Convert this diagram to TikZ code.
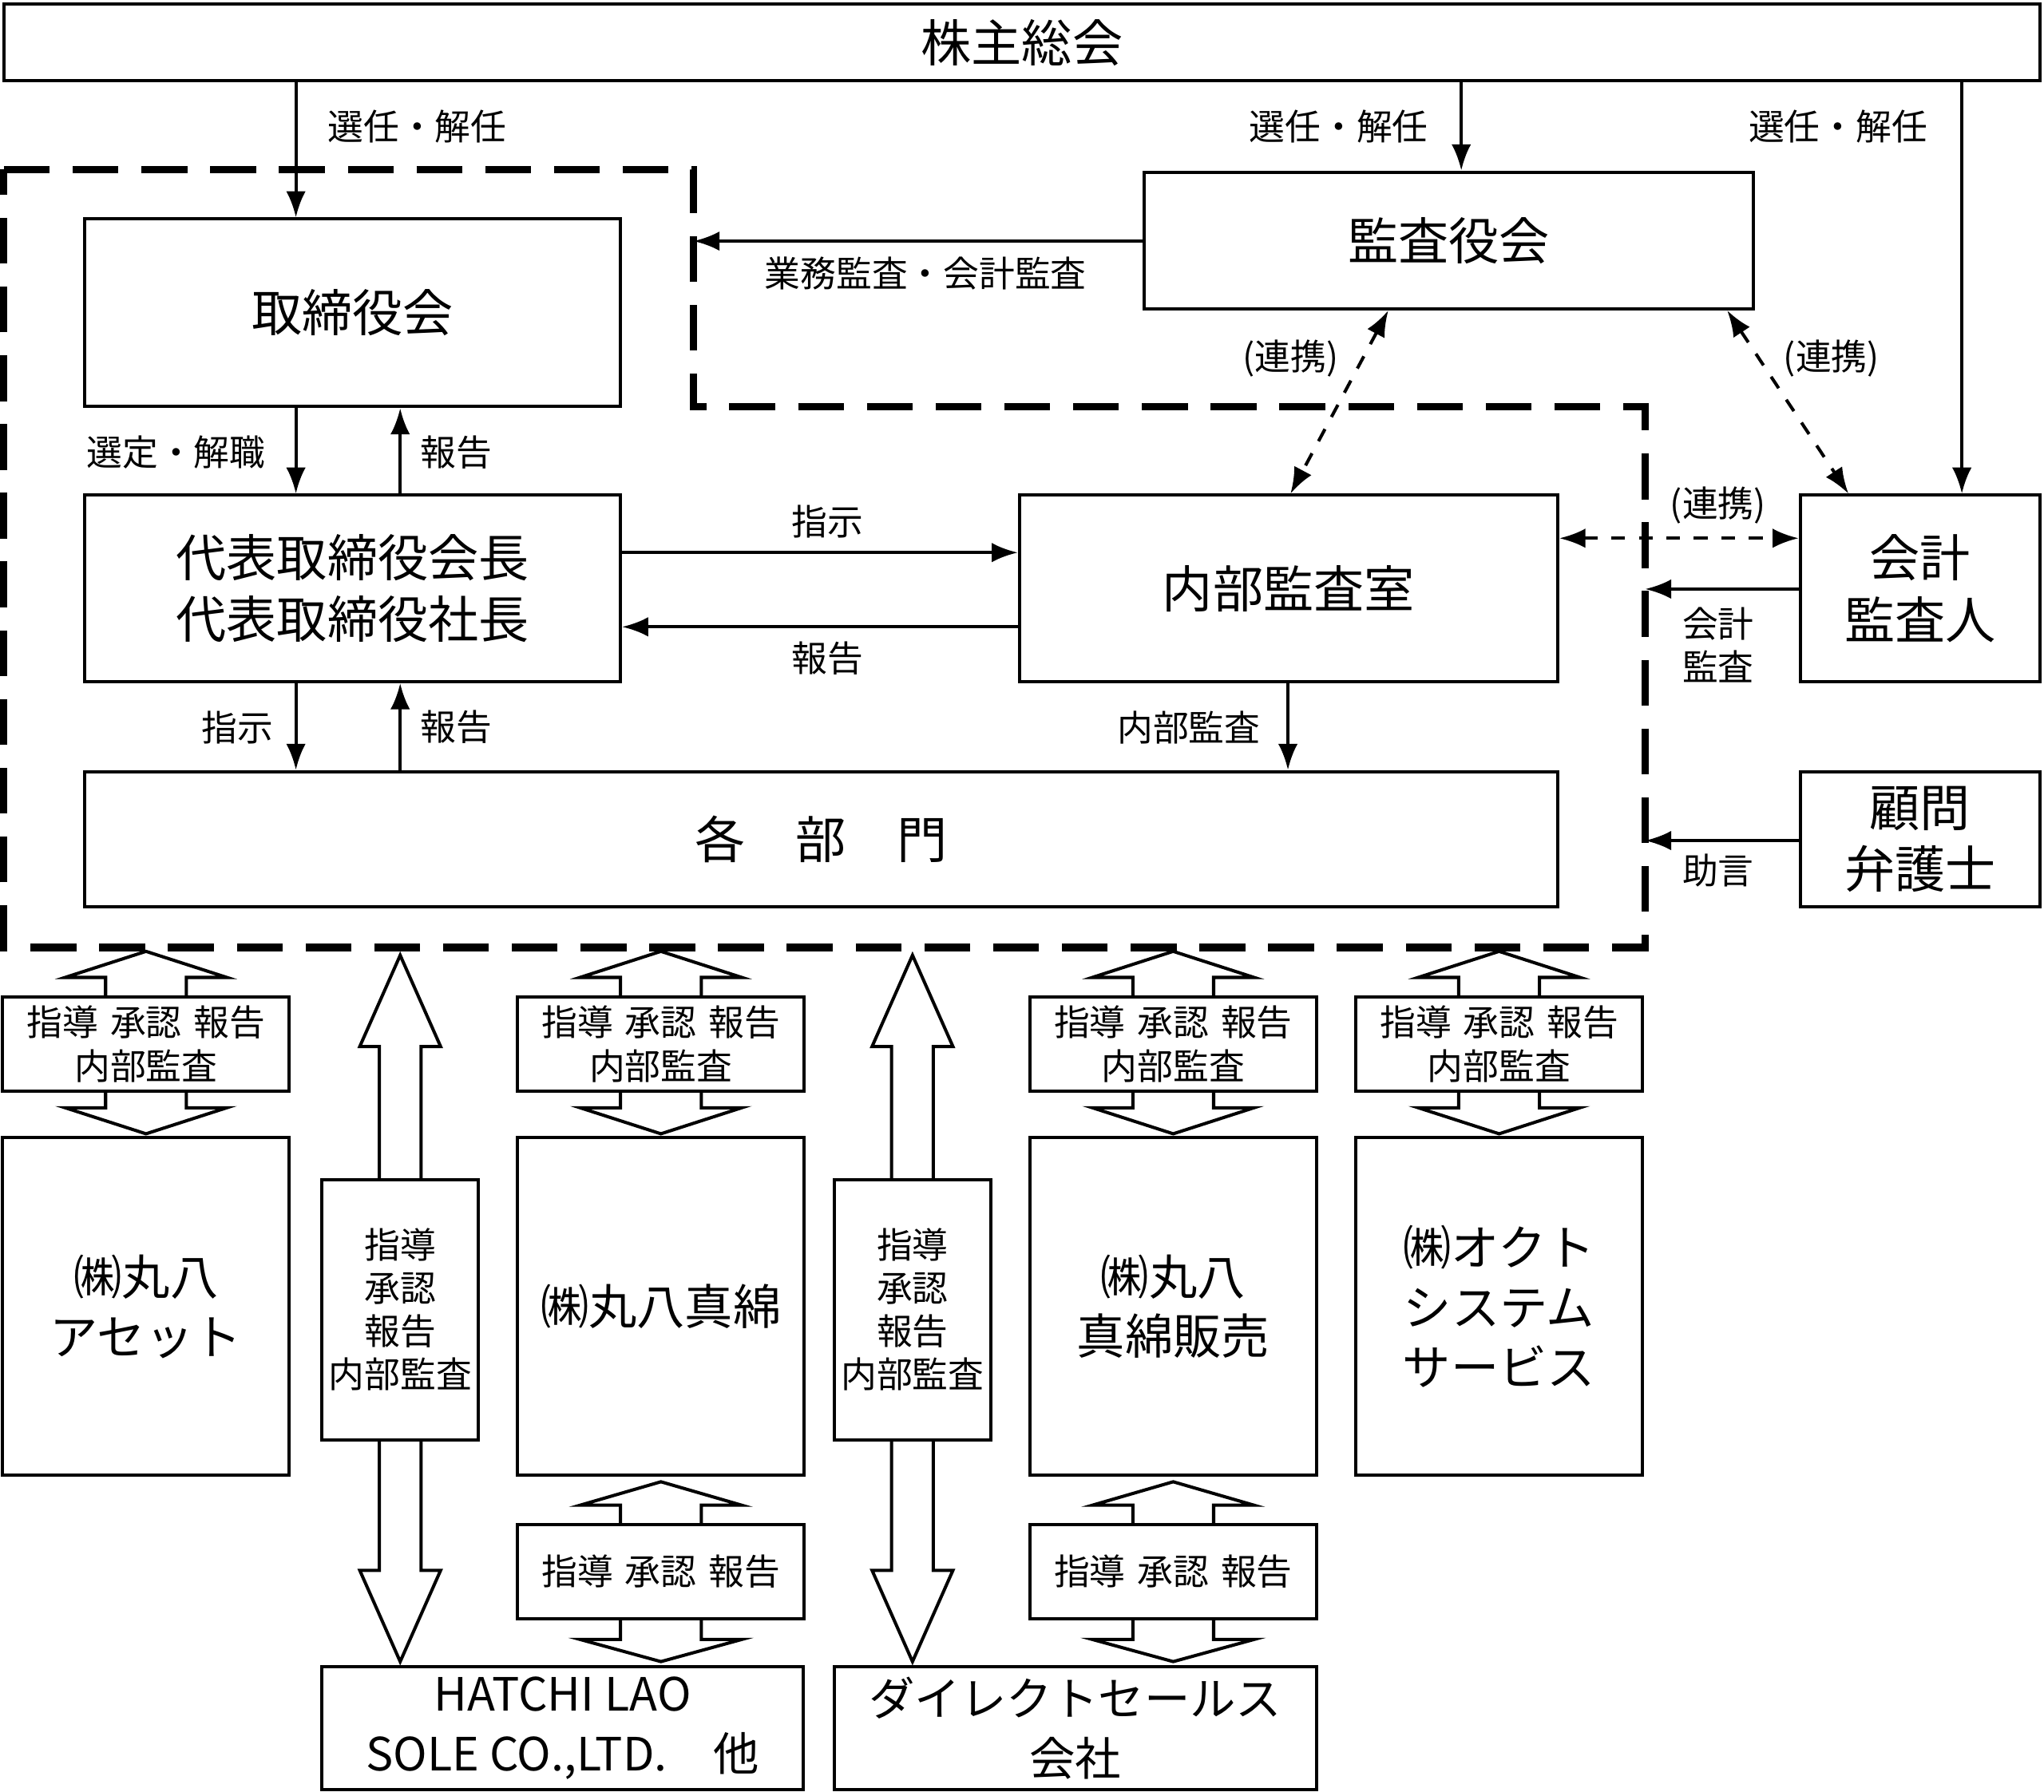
\documentclass[tikz,border=0pt]{standalone}
\usepackage{fontspec}
\setmainfont{Noto Sans CJK JP}
\usetikzlibrary{arrows.meta, calc, fit}

% block double arrow: cx, top tip, top base, bottom base, bottom tip, half head, half shaft
\newcommand{\blockarrow}[7]{%
  \draw[fill=white] (#1,#2) -- (#1+#6,#3) -- (#1+#7,#3) -- (#1+#7,#4) -- (#1+#6,#4)
    -- (#1,#5) -- (#1-#6,#4) -- (#1-#7,#4) -- (#1-#7,#3) -- (#1-#6,#3) -- cycle;}

\begin{document}
\begin{tikzpicture}[x=0.01cm, y=-0.01cm, line width=0.7pt,
    box/.style={draw, fill=white, inner sep=0pt},
    big/.style={align=center, font=\fontsize{11}{13.5}\selectfont},
    lbl/.style={align=center, font=\fontsize{7.8}{9.5}\selectfont},
    arr/.style={-{Latex[length=0.2cm,width=0.15cm]}},
    link/.style={{Latex[length=0.2cm,width=0.15cm]}-{Latex[length=0.2cm,width=0.15cm]}, dashed}]
    \useasboundingbox (0,0) rectangle (1568,1375);

    % dashed company frame
    \draw[line width=1.6pt, dash pattern=on 10pt off 5pt]
        (3,130) -- (532,130) -- (532,312) -- (1262,312) -- (1262,727) -- (3,727) -- cycle;

    % main boxes
    \node[box, fit={(3,3)(1565,62)}] (soukai) {};
    \node[big] at (soukai) {株主総会};
    \node[box, fit={(65,168)(476,312)}] (torishimari) {};
    \node[big] at (torishimari) {取締役会};
    \node[box, fit={(878,132)(1345,237)}] (kansayaku) {};
    \node[big] at (kansayaku) {監査役会};
    \node[box, fit={(65,380)(476,523)}] (daihyo) {};
    \node[big] at (daihyo) {代表取締役会長\\代表取締役社長};
    \node[box, fit={(782,380)(1195,523)}] (naibu) {};
    \node[big] at (naibu) {内部監査室};
    \node[box, fit={(1381,380)(1565,523)}] (kaikei) {};
    \node[big] at (kaikei) {会計\\監査人};
    \node[box, fit={(65,592)(1195,696)}] (bumon) {};
    \node[big] at (bumon) {各　部　門};
    \node[box, fit={(1381,592)(1565,696)}] (komon) {};
    \node[big] at (komon) {顧問\\弁護士};
    \coordinate (frame) at (1262,452);
    \coordinate (frameB) at (1262,645);
    \coordinate (frameT) at (532,185);

    % connectors
    \draw[arr] (soukai.south -| 227,0) -- (torishimari.north -| 227,0);
    \node[lbl] at (320,97) {選任・解任};
    \draw[arr] (soukai.south -| 1121,0) -- (kansayaku.north -| 1121,0);
    \node[lbl] at (1027,97) {選任・解任};
    \draw[arr] (soukai.south -| 1505,0) -- (kaikei.north -| 1505,0);
    \node[lbl] at (1410,97) {選任・解任};
    \draw[arr] (kansayaku.west |- frameT) -- (frameT);
    \node[lbl] at (710,210) {業務監査・会計監査};
    \draw[arr] (torishimari.south -| 227,0) -- (daihyo.north -| 227,0);
    \node[lbl] at (135,347) {選定・解職};
    \draw[arr] (daihyo.north -| 307,0) -- (torishimari.south -| 307,0);
    \node[lbl] at (350,347) {報告};
    \draw[arr] (daihyo.east |- 0,424) -- (naibu.west |- 0,424);
    \node[lbl] at (635,400) {指示};
    \draw[arr] (naibu.west |- 0,481) -- (daihyo.east |- 0,481);
    \node[lbl] at (635,505) {報告};
    \draw[arr] (daihyo.south -| 227,0) -- (bumon.north -| 227,0);
    \node[lbl] at (182,558) {指示};
    \draw[arr] (bumon.north -| 307,0) -- (daihyo.south -| 307,0);
    \node[lbl] at (350,558) {報告};
    \draw[arr] (naibu.south -| 988,0) -- (bumon.north -| 988,0);
    \node[lbl] at (912,558) {内部監査};
    \draw[link] (kansayaku.south -| 1065,0) -- (naibu.north -| 990,0);
    \node[lbl] at (990,275) {(連携)};
    \draw[link] (kansayaku.south -| 1325,0) -- (kaikei.north -| 1418,0);
    \node[lbl] at (1405,275) {(連携)};
    \draw[link] (naibu.east |- 0,413) -- (kaikei.west |- 0,413);
    \node[lbl] at (1318,388) {(連携)};
    \draw[arr] (kaikei.west |- frame) -- (frame);
    \node[lbl] at (1318,495) {会計\\監査};
    \draw[arr] (komon.west |- frameB) -- (frameB);
    \node[lbl] at (1318,668) {助言};

    % subsidiaries with short block arrows
    \foreach \cx/\name/\txt in {112/asset/{㈱丸八\\アセット}, 507/mawata/{㈱丸八真綿},
        900/hanbai/{㈱丸八\\真綿販売}, 1150/octo/{㈱オクト\\システム\\サービス}} {
      \blockarrow{\cx}{730}{750}{850}{870}{62}{31}
      \node[box, fit={(\cx-110,765)(\cx+110,837)}] (\name-lbl) {};
      \node[lbl] at (\name-lbl) {指導\,\,承認\,\,報告\\内部監査};
      \node[box, fit={(\cx-110,873)(\cx+110,1132)}] (\name) {};
      \node[big, font=\fontsize{10.5}{13}\selectfont] at (\name) {\txt};
    }
    \foreach \cx/\name in {507/mawata, 900/hanbai} {
      \blockarrow{\cx}{1137}{1155}{1258}{1275}{62}{31}
      \node[box, fit={(\cx-110,1170)(\cx+110,1242)}] (\name-sub) {};
      \node[lbl] at (\name-sub) {指導\,\,承認\,\,報告};
    }

    % long block arrows to overseas and sales companies
    \foreach \cx/\name in {307/lao, 700/direct} {
      \blockarrow{\cx}{733}{803}{1205}{1275}{31}{16}
      \node[box, fit={(\cx-60,905)(\cx+60,1105)}] (\name-lbl) {};
      \node[lbl, font=\fontsize{7.8}{9.4}\selectfont] at (\name-lbl) {指導\\承認\\報告\\内部監査};
    }
    \node[box, fit={(247,1279)(616,1373)}] (lao) {};
    \node[big, font=\fontsize{10}{13}\selectfont] at (lao) {HATCHI LAO\\SOLE CO.,LTD.　他};
    \node[box, fit={(640,1279)(1010,1373)}] (direct) {};
    \node[big, font=\fontsize{10}{13}\selectfont] at (direct) {ダイレクトセールス\\会社};
\end{tikzpicture}
\end{document}
